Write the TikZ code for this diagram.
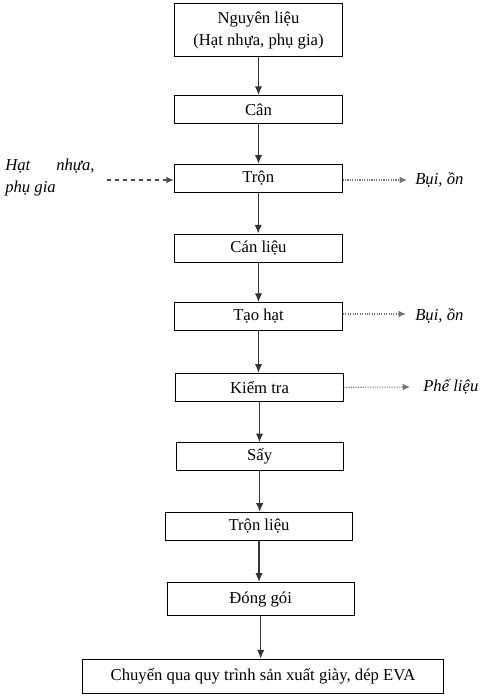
\documentclass[tikz,border=0pt]{standalone}
\usepackage{fontspec}
\setmainfont{Liberation Serif}
\usetikzlibrary{arrows.meta}
\tikzset{
  box/.style={draw,line width=0.7pt,minimum height=21pt,inner sep=2pt,
    font=\fontsize{12.5}{16.5}\selectfont},
  flow/.style={line width=1pt,draw=black!80,-{Latex[length=6.5pt,width=5.5pt]}},
  feedin/.style={line width=0.8pt,draw=black!70,dashed,-{Latex[length=5.5pt,width=5pt]}},
  feedout/.style={line width=0.8pt,draw=black!55,densely dotted,-{Latex[length=5.5pt,width=5pt]}},
  note/.style={anchor=west,inner sep=0pt,font=\fontsize{12.5}{16.5}\selectfont\itshape}
}
\begin{document}
\begin{tikzpicture}[x=0.75pt,y=-0.75pt]
  \useasboundingbox (0,0) rectangle (490,696);
  \node[box,minimum width=126pt,minimum height=40pt,align=center] (nl) at (258.5,30)
    {Nguyên liệu\\(Hạt nhựa, phụ gia)};
  \node[box,minimum width=126pt] (can) at (258.5,109.5) {Cân};
  \node[box,minimum width=126pt] (tron) at (258.2,178.3) {Trộn};
  \node[box,minimum width=126pt] (canlieu) at (258.5,248) {Cán liệu};
  \node[box,minimum width=126pt] (taohat) at (258.5,316.5) {Tạo hạt};
  \node[box,minimum width=125.5pt] (kiemtra) at (259.5,387.3) {Kiểm tra};
  \node[box,minimum width=125pt] (say) at (259.7,456.7) {Sấy};
  \node[box,minimum width=140pt] (tronlieu) at (259,526.3) {Trộn liệu};
  \node[box,minimum width=140pt,minimum height=25pt] (donggoi) at (260.7,599) {Đóng gói};
  \node[box,minimum width=271pt,minimum height=25.5pt] (chuyen) at (263,676)
    {Chuyển qua quy trình sản xuất giày, dép EVA};

  \draw[flow] (nl.south) -- (nl.south |- can.north);
  \draw[flow] (can.south) -- (can.south |- tron.north);
  \draw[flow] (tron.south) -- (tron.south |- canlieu.north);
  \draw[flow] (canlieu.south) -- (canlieu.south |- taohat.north);
  \draw[flow] (taohat.south) -- (taohat.south |- kiemtra.north);
  \draw[flow] (kiemtra.south) -- (kiemtra.south |- say.north);
  \draw[flow] (say.south) -- (say.south |- tronlieu.north);
  \draw[flow] (tronlieu.south) -- (tronlieu.south |- donggoi.north);
  \draw[flow] (donggoi.south) -- (donggoi.south |- chuyen.north);

  \node[note,align=left] (hatnhua) at (5,177)
    {\hbox to 67pt{Hạt\hfill nhựa,}\\phụ gia};
  \coordinate (vao) at (107,180);
  \draw[feedin] (vao) -- (vao -| tron.west);

  \node[note] (bui1) at (415,180) {Bụi, ồn};
  \draw[feedout] (tron.east |- bui1.west) -- (407,180);
  \node[note] (bui2) at (415,316) {Bụi, ồn};
  \draw[feedout] (taohat.east |- 0,314) -- (406,314);
  \node[note] (phelieu) at (423,387) {Phế liệu};
  \draw[feedout] (kiemtra.east) -- (410,387);
\end{tikzpicture}
\end{document}
